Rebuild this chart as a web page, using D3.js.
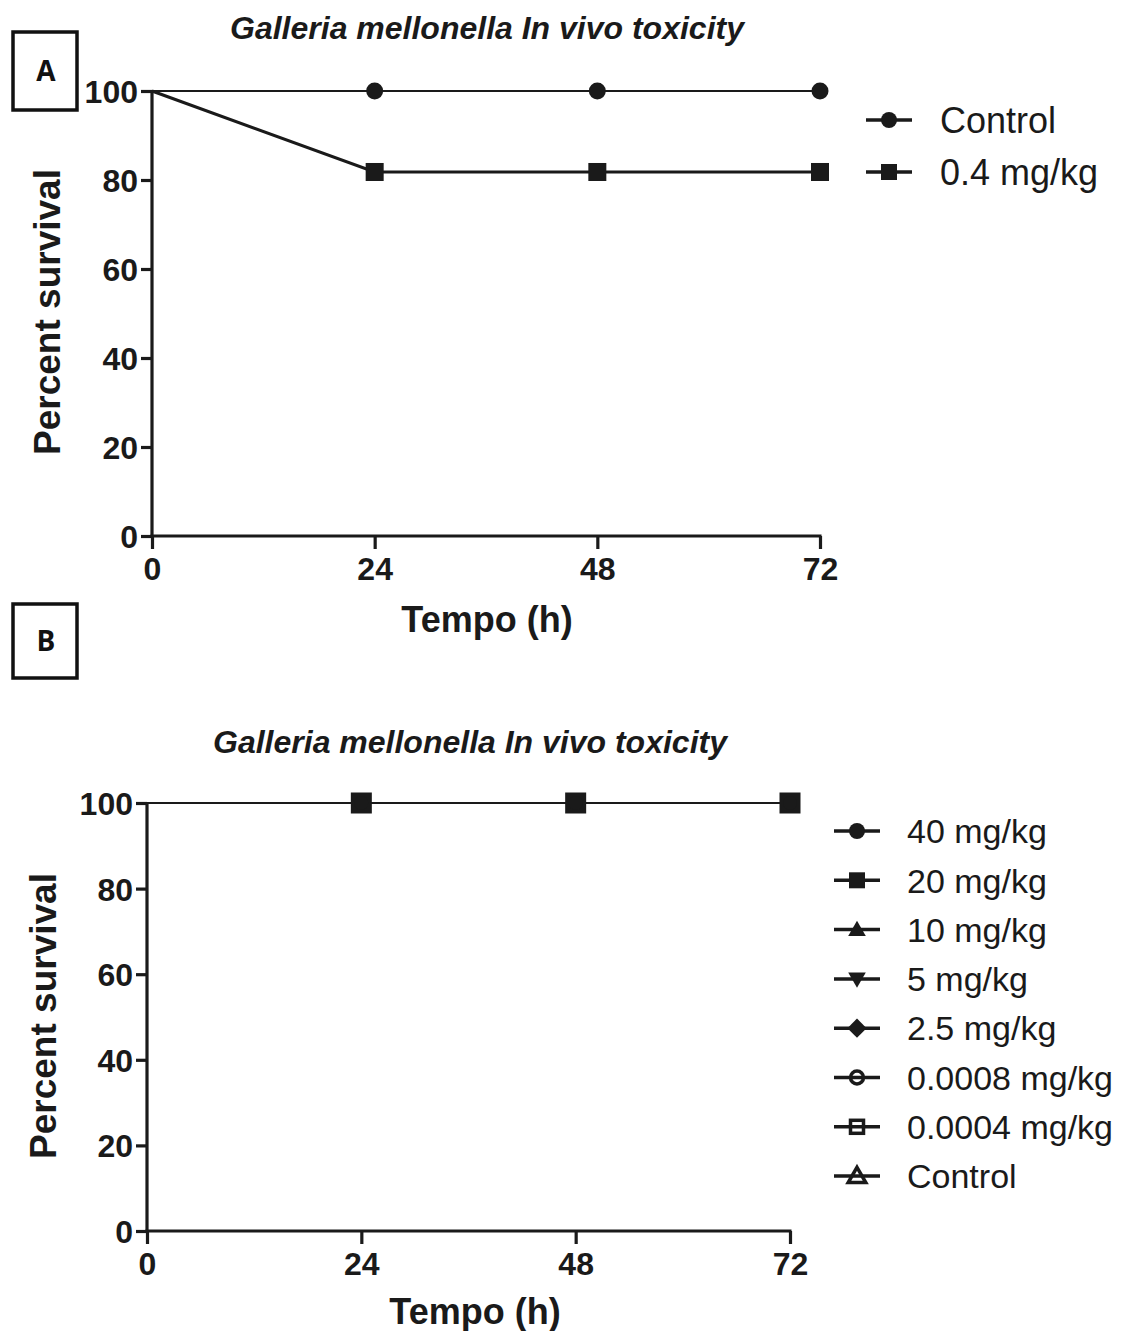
<!DOCTYPE html>
<html><head><meta charset="utf-8">
<script src="https://cdn.jsdelivr.net/npm/d3@7"></script>
<style>body{margin:0;background:#fff}svg{display:block}</style>
</head><body>
<script>
const times = [0, 24, 48, 72];
const yTicks = [0, 20, 40, 60, 80, 100];
const xTicks = [0, 24, 48, 72];
const title = "Galleria mellonella In vivo toxicity";
const xTitle = "Tempo (h)";
const yTitle = "Percent survival";

// Panel A
const seriesA = ["Control", "0.4 mg/kg"];
const valuesA_control = [100, 100, 100, 100];
const valuesA_04 = [100, 81.8, 81.8, 81.8];
const symbolsA = ["circle", "square"];

// Panel B
const seriesB = ["40 mg/kg", "20 mg/kg", "10 mg/kg", "5 mg/kg", "2.5 mg/kg", "0.0008 mg/kg", "0.0004 mg/kg", "Control"];
const valuesB = [
  [100, 100, 100, 100],
  [100, 100, 100, 100],
  [100, 100, 100, 100],
  [100, 100, 100, 100],
  [100, 100, 100, 100],
  [100, 100, 100, 100],
  [100, 100, 100, 100],
  [100, 100, 100, 100]
];
const symbolsB = ["circle", "square", "triangle", "triangledown", "diamond", "circleopen", "squareopen", "triangleopen"];

const W = 1124, H = 1331;
const svg = d3.select("body").append("svg").attr("width", W).attr("height", H)
  .style("font-family", "'Liberation Sans', Arial, sans-serif");

const col = "#1a1a1a";

function drawSymbol(g, type, x, y, s) {
  const filled = !type.endsWith("open");
  const base = type.replace("open", "");
  const fill = filled ? col : "none";
  const sw = filled ? 0 : 3.5;
  if (base === "circle") {
    g.append("circle").attr("cx", x).attr("cy", y).attr("r", filled ? s * 0.5 : s * 0.5 - 1.5)
      .attr("fill", fill).attr("stroke", col).attr("stroke-width", sw);
    return;
  }
  if (base === "square") {
    const ss = filled ? s : s - 3;
    g.append("rect").attr("x", x - ss / 2).attr("y", y - ss / 2).attr("width", ss).attr("height", ss)
      .attr("fill", fill).attr("stroke", col).attr("stroke-width", sw);
    return;
  }
  let pts;
  if (base === "triangle") pts = [[0, -s * 0.55], [s * 0.55, s * 0.4], [-s * 0.55, s * 0.4]];
  else if (base === "triangledown") pts = [[0, s * 0.55], [s * 0.55, -s * 0.4], [-s * 0.55, -s * 0.4]];
  else pts = [[0, -s * 0.6], [s * 0.6, 0], [0, s * 0.6], [-s * 0.6, 0]];
  g.append("polygon").attr("points", pts.map(p => [x + p[0], y + p[1]].join(",")).join(" "))
    .attr("fill", fill).attr("stroke", col).attr("stroke-width", sw).attr("stroke-linejoin", "miter");
}

function panel(cfg) {
  const x = d3.scaleLinear().domain([0, 72]).range([cfg.x0, cfg.x1]);
  const y = d3.scaleLinear().domain([0, 100]).range([cfg.y0, cfg.y1]);
  const g = svg.append("g");

  // title
  g.append("text").attr("x", cfg.titleX).attr("y", cfg.titleY).attr("text-anchor", "middle")
    .attr("font-size", 32).attr("font-weight", "bold").attr("font-style", "italic").attr("fill", col)
    .text(title);

  // y axis
  const ya = g.append("g").attr("transform", `translate(${cfg.x0},0)`)
    .call(d3.axisLeft(y).tickValues(yTicks).tickSize(11).tickPadding(3));
  ya.select(".domain").attr("stroke", col).attr("stroke-width", 3.2).attr("d", `M0,${cfg.y0 + 1.5}V${cfg.y1}`);
  ya.selectAll(".tick line").attr("stroke", col).attr("stroke-width", 3.2);
  ya.selectAll(".tick text").attr("font-size", 32).attr("font-weight", "bold").attr("fill", col)
    .attr("dy", "0.36em");

  // x axis
  const xa = g.append("g").attr("transform", `translate(0,${cfg.y0})`)
    .call(d3.axisBottom(x).tickValues(xTicks).tickSize(13).tickPadding(8));
  xa.select(".domain").attr("stroke", col).attr("stroke-width", 3.2).attr("d", `M${cfg.x0 - 1.5},0H${cfg.x1 + 1.5}`);
  xa.selectAll(".tick line").attr("stroke", col).attr("stroke-width", 3.2);
  xa.selectAll(".tick text").attr("font-size", 32).attr("font-weight", "bold").attr("fill", col);

  // axis titles
  g.append("text").attr("transform", `translate(${cfg.yTitleX},${cfg.yTitleY}) rotate(-90)`)
    .attr("text-anchor", "middle").attr("font-size", 37).attr("font-weight", "bold").attr("fill", col)
    .text(yTitle);
  g.append("text").attr("x", cfg.xTitleX).attr("y", cfg.xTitleY).attr("text-anchor", "middle")
    .attr("font-size", 36).attr("font-weight", "bold").attr("fill", col)
    .text(xTitle);

  // lines
  const line = d3.line().x((d, i) => x(times[i])).y(d => y(d));
  const order = cfg.drawOrder;
  order.forEach(k => {
    g.append("path").datum(cfg.values[k]).attr("d", line).attr("fill", "none")
      .attr("stroke", col).attr("stroke-width", cfg.lineW[k]);
  });
  order.forEach(k => {
    cfg.values[k].forEach((v, i) => {
      if (times[i] === 0) return;
      drawSymbol(g, cfg.symbols[k], x(times[i]), y(v), cfg.markerSize[k]);
    });
  });

  // legend
  cfg.names.forEach((n, k) => {
    const ly = cfg.legY + k * cfg.legStep;
    const lg = g.append("g");
    lg.append("line").attr("x1", cfg.legX).attr("x2", cfg.legX + 46).attr("y1", ly).attr("y2", ly)
      .attr("stroke", col).attr("stroke-width", 3.5);
    drawSymbol(lg, cfg.symbols[k], cfg.legX + 23, ly, cfg.legSym);
    lg.append("text").attr("x", cfg.legTextX).attr("y", ly).attr("dy", "0.36em")
      .attr("font-size", cfg.legFont).attr("fill", col).text(n);
  });

  // panel label box
  g.append("rect").attr("x", cfg.box[0]).attr("y", cfg.box[1]).attr("width", cfg.box[2]).attr("height", cfg.box[3])
    .attr("fill", "#fff").attr("stroke", "#111").attr("stroke-width", 3.5);
  g.append("text").attr("x", cfg.box[0] + cfg.box[2] / 2 + 1).attr("y", cfg.box[1] + cfg.box[3] / 2).attr("dy", "0.36em")
    .attr("text-anchor", "middle").attr("font-size", 28).attr("font-weight", "bold").attr("fill", "#111")
    .style("font-family", "'Open Sans', 'Liberation Sans', sans-serif").text(cfg.label);
}

panel({
  x0: 152, x1: 820, y0: 536, y1: 91,
  titleX: 487, titleY: 39,
  yTitleX: 60, yTitleY: 312, xTitleX: 487, xTitleY: 632,
  values: [valuesA_control, valuesA_04], names: seriesA, symbols: symbolsA,
  drawOrder: [0, 1], lineW: [2.2, 3.2], markerSize: [17, 18],
  legX: 866, legY: 120, legStep: 52, legTextX: 940, legFont: 36, legSym: 16,
  box: [13, 32, 64, 78], label: "A"
});

panel({
  x0: 147, x1: 790, y0: 1231, y1: 803,
  titleX: 470, titleY: 753,
  yTitleX: 56, yTitleY: 1016, xTitleX: 475, xTitleY: 1324,
  values: valuesB, names: seriesB, symbols: symbolsB,
  drawOrder: [7, 6, 5, 4, 3, 2, 1, 0], lineW: [2.2, 2.2, 2.2, 2.2, 2.2, 2.2, 2.2, 2.2],
  markerSize: [14, 21, 13, 13, 13, 13, 13, 12],
  legX: 834, legY: 831, legStep: 49.3, legTextX: 907, legFont: 34, legSym: 16,
  box: [13, 604, 64, 74], label: "B"
});
</script>
</body></html>
